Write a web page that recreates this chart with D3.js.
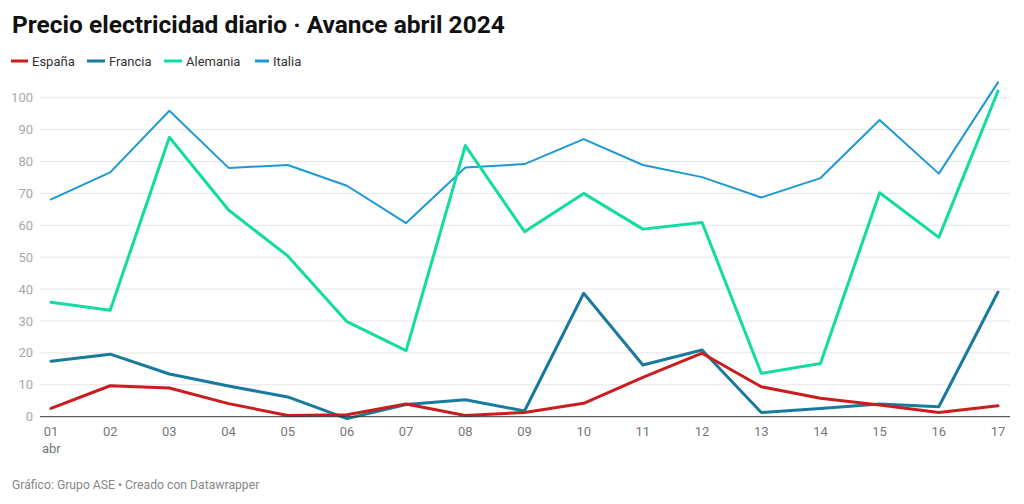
<!DOCTYPE html>
<html><head><meta charset="utf-8">
<script src="https://cdn.jsdelivr.net/npm/d3@7"></script>
<style>
body{margin:0;background:#fff;font-family:Roboto,"Noto Sans",sans-serif;}
</style></head>
<body><svg id="c" width="1024" height="504"></svg>
<script>
const days = ["01","02","03","04","05","06","07","08","09","10","11","12","13","14","15","16","17"];
const espana   = [2.6,9.7,9.0,4.1,0.4,0.6,4.0,0.4,1.3,4.2,12.3,19.9,9.4,5.8,3.7,1.3,3.4];
const francia  = [17.4,19.6,13.4,9.6,6.2,-0.6,3.8,5.3,1.8,38.7,16.2,20.9,1.3,2.6,4.0,3.1,39.1];
const alemania = [35.9,33.4,87.6,64.8,50.4,29.8,20.7,85.0,58.0,70.0,58.8,60.9,13.6,16.7,70.2,56.2,102.1];
const italia   = [68.1,76.6,95.9,78.0,78.9,72.4,60.7,78.1,79.2,87.0,78.9,75.1,68.7,74.8,93.0,76.2,104.8];
const yTicks = [0,10,20,30,40,50,60,70,80,90,100];
const seriesNames = ["España","Francia","Alemania","Italia"];

const series = [
  {name:"España", values:espana, color:"#c91d1f", w:3},
  {name:"Francia", values:francia, color:"#1a7a9e", w:3},
  {name:"Alemania", values:alemania, color:"#12dca0", w:3},
  {name:"Italia", values:italia, color:"#1d9ad3", w:2}
];

const svg = d3.select("#c");
svg.append("text").attr("x",12).attr("y",33).text("Precio electricidad diario · Avance abril 2024")
  .attr("font-size",24.5).attr("font-weight",700).attr("fill","#111");

// legend
const lx = [11,87,164,255];
const lw = [17,18,18,14];
series.forEach((s,i)=>{
  const g = svg.append("g").attr("transform",`translate(${lx[i]},61)`);
  g.append("line").attr("x1",0).attr("x2",lw[i]).attr("y1",0).attr("y2",0).attr("stroke",s.color).attr("stroke-width",3);
  g.append("text").attr("x",lw[i]+4).attr("y",4.5).text(seriesNames[i]).attr("font-size",13).attr("fill","#333");
});

const x = d3.scalePoint().domain(days).range([51,998]);
const y = d3.scaleLinear().domain([0,100]).range([416.7,97.7]);

// grid
const grid = svg.append("g");
yTicks.forEach(t=>{
  if(t>0) grid.append("line").attr("x1",40).attr("x2",1010).attr("y1",y(t)).attr("y2",y(t)).attr("stroke","#e6e6e6").attr("stroke-width",1);
  grid.append("text").attr("x",33).attr("y",y(t)).attr("dy","0.35em").attr("text-anchor","end")
    .text(t).attr("font-size",13).attr("fill","#a8a8a8");
});

// x axis labels
svg.append("g").call(g=>{
  days.forEach(d=>{
    g.append("text").attr("x",x(d)).attr("y",436).attr("text-anchor","middle").text(d)
      .attr("font-size",13).attr("fill","#777");
  });
  g.append("text").attr("x",x(days[0])-9).attr("y",453).text("abr").attr("font-size",13).attr("fill","#777");
});

const line = d3.line().x((d,i)=>x(days[i])).y(d=>y(d));
[3,2,1,0].forEach(i=>{
  const s = series[i];
  svg.append("path").datum(s.values).attr("d",line).attr("fill","none")
    .attr("stroke",s.color).attr("stroke-width",s.w).attr("stroke-linejoin","round").attr("stroke-linecap","round");
});

svg.append("line").attr("x1",40).attr("x2",1010).attr("y1",y(0)).attr("y2",y(0)).attr("stroke","#333").attr("stroke-width",1);

svg.append("text").attr("x",12).attr("y",489).text("Gráfico: Grupo ASE • Creado con Datawrapper")
  .attr("font-size",12.2).attr("fill","#888");
</script>
</body></html>
